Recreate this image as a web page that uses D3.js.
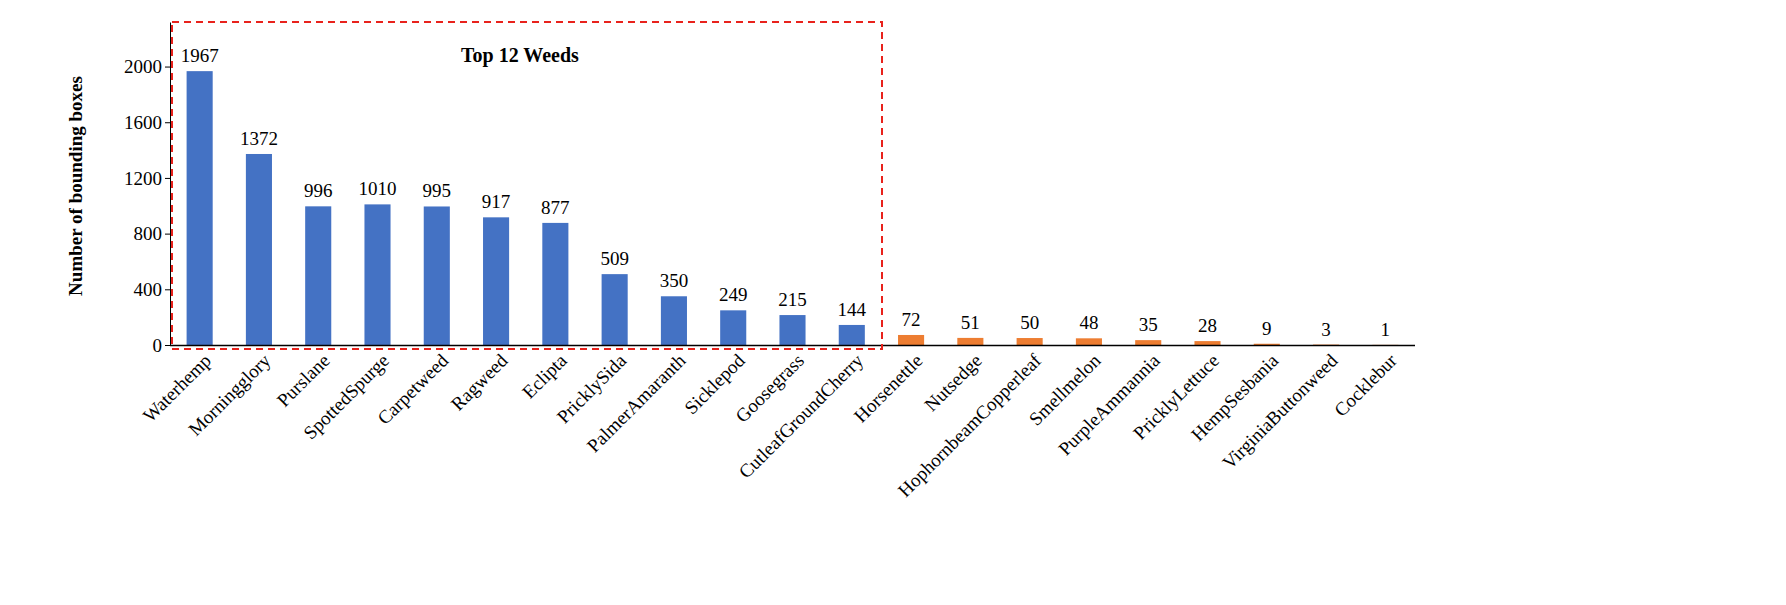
<!DOCTYPE html><html><head><meta charset="utf-8">
<script src="https://cdn.jsdelivr.net/npm/d3@7/dist/d3.min.js"></script>
<style>body{margin:0;background:#fff}text{font-family:"Liberation Serif","Times New Roman",serif}</style>
</head><body><svg id="c" width="1786" height="605"></svg>
<script>
const categories=["Waterhemp","Morningglory","Purslane","SpottedSpurge","Carpetweed","Ragweed","Eclipta","PricklySida","PalmerAmaranth","Sicklepod","Goosegrass","CutleafGroundCherry","Horsenettle","Nutsedge","HophornbeamCopperleaf","Smellmelon","PurpleAmmannia","PricklyLettuce","HempSesbania","VirginiaButtonweed","Cocklebur"];
const values=[1967,1372,996,1010,995,917,877,509,350,249,215,144,72,51,50,48,35,28,9,3,1];
const yTicks=[0,400,800,1200,1600,2000];
const topN=12;
const svg=d3.select("#c");
const x=d3.scaleBand().domain(categories).range([170,1415]).paddingInner(0.56).paddingOuter(0.28);
const y=d3.scaleLinear().domain([0,2320]).range([345,22]);
svg.selectAll("rect.b").data(values).join("rect").attr("x",(d,i)=>x(categories[i])).attr("width",x.bandwidth())
 .attr("y",d=>y(d)).attr("height",d=>y(0)-y(d)).attr("fill",(d,i)=>i<topN?"#4472C4":"#ED7D31");
svg.selectAll("text.v").data(values).join("text").attr("x",(d,i)=>x(categories[i])+x.bandwidth()/2).attr("y",d=>y(d)-9)
 .attr("text-anchor","middle").attr("font-size",19).text(d=>d);
const ya=svg.append("g").attr("transform","translate(170,0)").call(d3.axisLeft(y).tickValues(yTicks).tickFormat(d3.format("d")).tickSize(5).tickSizeOuter(0));
ya.selectAll("text").attr("font-size",19).attr("font-family","Liberation Serif");
ya.select(".domain").attr("stroke","#000");
const xa=svg.append("g").attr("transform","translate(0,345)").call(d3.axisBottom(x).tickSize(0).tickSizeOuter(0));
xa.select(".domain").attr("d","M170,0.5H1415").attr("stroke","#000").attr("stroke-width",1.5);
xa.selectAll("text").attr("font-size",19).attr("font-family","Liberation Serif").attr("text-anchor","end")
 .attr("transform","translate(8,12) rotate(-45)").attr("dy","0.35em").attr("y",0);
svg.append("text").attr("transform","translate(82,186) rotate(-90)").attr("text-anchor","middle").attr("font-size",19).attr("font-weight","bold").text("Number of bounding boxes");
svg.append("rect").attr("x",172).attr("y",22).attr("width",710).attr("height",327).attr("fill","none").attr("stroke","#E8221C").attr("stroke-width",2).attr("stroke-dasharray","7,5");
svg.append("text").attr("x",520).attr("y",62).attr("text-anchor","middle").attr("font-size",20).attr("font-weight","bold").text("Top 12 Weeds");
</script></body></html>
